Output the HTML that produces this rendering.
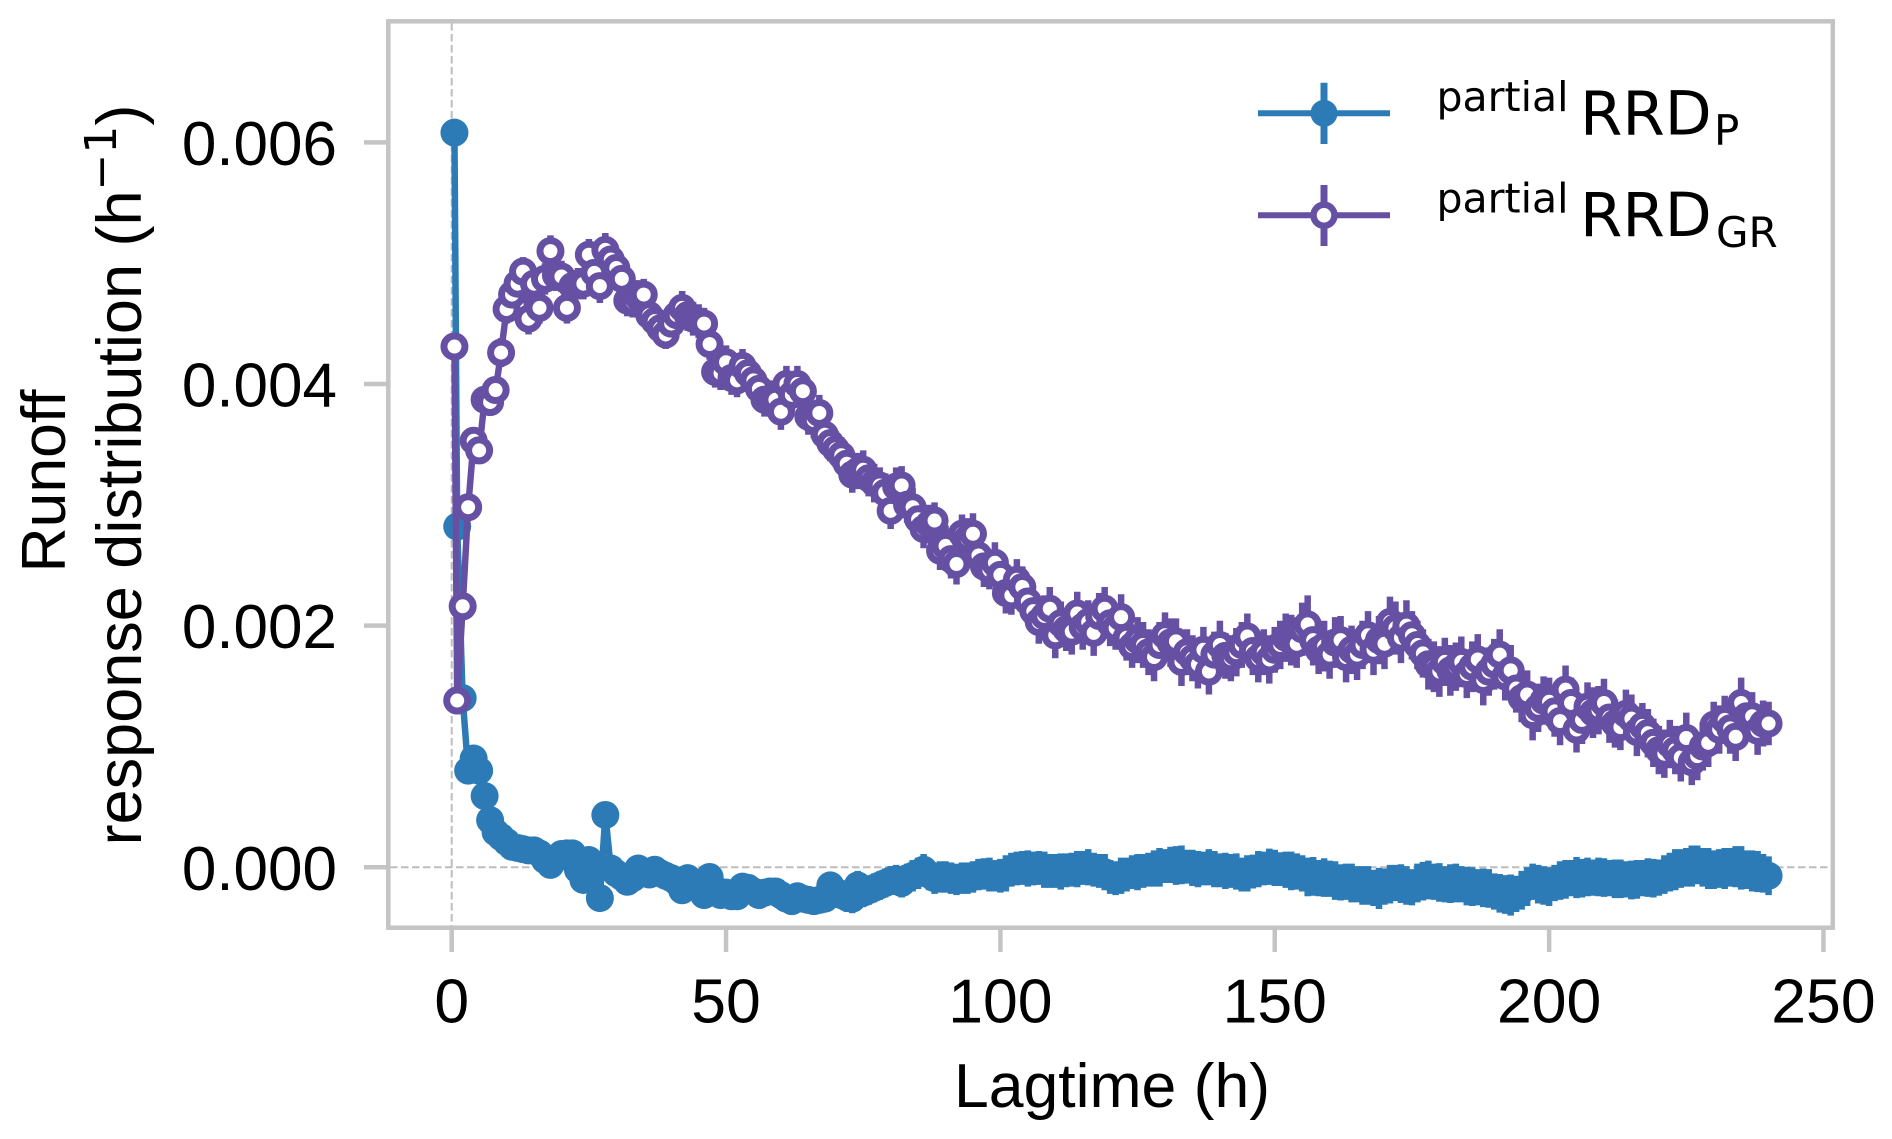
<!DOCTYPE html>
<html lang="en">
<head>
<meta charset="utf-8">
<title>Runoff response distribution</title>
<style>
html,body{margin:0;padding:0;background:#fff;}
svg{display:block;}
text{font-family:"Liberation Sans",sans-serif;fill:#000;}
.dj{font-family:"DejaVu Sans",sans-serif;}
</style>
</head>
<body>
<svg id="chart" xmlns="http://www.w3.org/2000/svg" width="1892" height="1139" viewBox="0 0 1892 1139">
  <rect x="0" y="0" width="1892" height="1139" fill="#fff"/>
  <g id="refs"></g>
  <g id="seriesP"></g>
  <g id="seriesGR"></g>
  <rect x="388.3" y="21.3" width="1444.5" height="906.4" fill="none" stroke="#c4c4c4" stroke-width="4.5"/>
  <g id="ticks"></g>

  <text x="1112" y="1107" font-size="62.5" text-anchor="middle">Lagtime (h)</text>
  <g>
    <text transform="translate(65,481) rotate(-90)" font-size="62.5" text-anchor="middle">Runoff</text>
    <text transform="translate(141,475) rotate(-90)" font-size="63" text-anchor="middle">response distribution (h<tspan class="dj" font-size="44" dy="-25">−1</tspan><tspan dy="25">)</tspan></text>
  </g>

  <g>
    <g>
      <line x1="1258" y1="113.3" x2="1390" y2="113.3" stroke="#2c7bb6" stroke-width="6"/>
      <line x1="1324" y1="82.7" x2="1324" y2="144" stroke="#2c7bb6" stroke-width="7"/>
      <circle cx="1324" cy="113.3" r="13.5" fill="#2c7bb6"/>
      <text class="dj" x="1436.5" y="111" font-size="41">partial</text>
      <text class="dj" x="1580" y="134.3" font-size="61">RRD</text>
      <text class="dj" x="1714" y="145" font-size="42">P</text>
    </g>
    <g>
      <line x1="1258" y1="215.3" x2="1390" y2="215.3" stroke="#6650a3" stroke-width="6"/>
      <line x1="1324" y1="185" x2="1324" y2="246" stroke="#6650a3" stroke-width="7"/>
      <circle cx="1324" cy="215.3" r="10.5" fill="#fff" stroke="#6650a3" stroke-width="6.5"/>
      <text class="dj" x="1436.5" y="212.3" font-size="41">partial</text>
      <text class="dj" x="1580" y="236" font-size="61">RRD</text>
      <text class="dj" x="1716" y="247" font-size="42">GR</text>
    </g>
  </g>
</svg>

<script>
const xTicks = [0, 50, 100, 150, 200, 250];
const xTickLabels = ['0', '50', '100', '150', '200', '250'];
const yTicks = [0, 2, 4, 6];
const yTickLabels = ['0.000', '0.002', '0.004', '0.006'];
const firstLag = 0.5;

// Values below are in units of 0.001 per hour; index i is lag i, except i=0 which is firstLag.
const rrdP = [
6.08,2.82,1.40,.80,.90,.80,.59,.39,.29,.25,
.21,.17,.16,.15,.14,.14,.115,.06,.02,.075,
.11,.115,.115,-.02,-.105,.06,-.01,-.255,.433,-.01,
-.05,-.08,-.12,-.09,-.01,-.04,-.06,-.02,-.05,-.07,
-.09,-.12,-.19,-.09,-.13,-.17,-.23,-.08,-.18,-.23,
-.21,-.24,-.24,-.16,-.17,-.2,-.23,-.21,-.2,-.2,
-.23,-.26,-.28,-.24,-.26,-.27,-.28,-.27,-.26,-.15,
-.2,-.23,-.25,-.26,-.15,-.21,-.19,-.17,-.15,-.13,
-.11,-.1,-.13,-.09,-.07,-.05,-.02,-.06,-.09,-.08,
-.08,-.09,-.10,-.09,-.09,-.08,-.06,-.055,-.06,-.07,
-.07,-.05,-.02,-.01,-.005,-.01,-.01,-.005,-.02,-.03,
-.03,-.035,-.025,-.02,-.015,-.005,0,-.02,-.03,-.04,
-.08,-.09,-.07,-.06,-.04,-.04,-.03,-.02,-.01,0,
.01,.02,.015,.02,.005,-.005,-.015,-.01,0,-.015,
-.025,-.03,-.03,-.035,-.06,-.05,-.035,-.015,-.01,.005,
-.005,-.015,-.02,-.03,-.035,-.05,-.08,-.075,-.09,-.085,
-.095,-.11,-.125,-.12,-.13,-.14,-.15,-.15,-.17,-.175,
-.16,-.14,-.13,-.135,-.15,-.165,-.13,-.115,-.105,-.12,
-.125,-.14,-.135,-.13,-.14,-.155,-.16,-.165,-.17,-.175,
-.2,-.215,-.225,-.23,-.22,-.19,-.16,-.12,-.14,-.15,
-.16,-.13,-.11,-.1,-.09,-.085,-.09,-.08,-.085,-.08,
-.085,-.09,-.095,-.095,-.1,-.105,-.1,-.09,-.085,-.09,
-.085,-.06,-.04,-.02,-.01,0,.01,.02,0,-.01,
-.02,-.01,-.01,0,.005,-.005,-.02,-.03,-.035,-.05,
-.07
];

const errP = [
.02,.02,.03,.04,.04,.04,.05,.05,.05,.05,
.05,.05,.05,.05,.05,.05,.06,.06,.06,.06,
.06,.07,.07,.07,.07,.07,.08,.08,.08,.08,
.08,.08,.08,.08,.09,.09,.09,.09,.09,.09,
.09,.09,.09,.10,.10,.10,.10,.10,.10,.10,
.10,.10,.10,.10,.10,.11,.11,.11,.11,.11,
.11,.11,.11,.11,.11,.11,.11,.11,.11,.11,
.11,.11,.12,.12,.12,.12,.12,.12,.12,.12,
.12,.12,.12,.12,.13,.13,.13,.13,.13,.13,
.13,.13,.13,.13,.13,.13,.13,.13,.14,.13,
.14,.15,.14,.14,.14,.15,.14,.14,.15,.14,
.14,.15,.14,.14,.15,.14,.15,.14,.14,.15,
.14,.14,.15,.14,.14,.15,.14,.14,.15,.16,
.14,.15,.16,.16,.14,.15,.15,.14,.15,.15,
.14,.15,.14,.15,.14,.15,.14,.15,.14,.15,
.15,.14,.15,.16,.15,.15,.16,.16,.15,.16,
.15,.16,.15,.15,.16,.15,.16,.16,.15,.17,
.15,.16,.15,.16,.16,.15,.16,.16,.16,.15,
.16,.15,.16,.16,.15,.16,.16,.15,.16,.16,
.15,.16,.16,.17,.15,.16,.16,.15,.16,.16,
.16,.15,.16,.16,.15,.17,.16,.16,.15,.16,
.16,.15,.16,.16,.15,.16,.16,.15,.16,.16,
.15,.16,.16,.17,.16,.16,.17,.16,.16,.17,
.16,.16,.17,.16,.17,.18,.16,.17,.17,.16,
.16
];

const rrdGR = [
4.31,1.38,2.16,2.98,3.53,3.45,3.87,3.85,3.95,4.26,
4.62,4.74,4.83,4.93,4.54,4.83,4.63,4.87,5.10,4.90,
4.89,4.63,4.81,4.83,4.83,5.07,4.92,4.81,5.11,5.03,
4.96,4.87,4.69,4.68,4.72,4.74,4.57,4.52,4.46,4.41,
4.50,4.57,4.63,4.57,4.54,4.52,4.50,4.33,4.10,4.09,
4.18,4.05,4.03,4.15,4.09,4.03,3.96,3.87,3.88,3.87,
3.77,4.00,3.91,4.00,3.94,3.73,3.70,3.76,3.58,3.51,
3.46,3.41,3.34,3.25,3.28,3.29,3.22,3.18,3.16,3.10,
2.95,3.15,3.16,3.00,2.98,2.88,2.80,2.84,2.87,2.62,
2.66,2.55,2.51,2.76,2.72,2.76,2.58,2.49,2.46,2.52,
2.42,2.27,2.25,2.38,2.32,2.20,2.12,2.03,2.08,2.14,
1.92,2.02,1.97,1.95,2.10,1.99,2.03,1.94,2.08,2.14,
2.02,1.98,2.07,1.90,1.83,1.88,1.84,1.78,1.74,1.84,
1.92,1.86,1.87,1.70,1.78,1.73,1.68,1.80,1.62,1.76,
1.84,1.75,1.73,1.78,1.84,1.91,1.79,1.73,1.78,1.72,
1.80,1.84,1.90,1.88,1.85,1.97,2.01,1.88,1.80,1.83,
1.76,1.86,1.88,1.74,1.80,1.76,1.84,1.92,1.80,1.88,
1.85,2.03,1.98,1.90,2.00,1.92,1.84,1.77,1.68,1.66,
1.62,1.70,1.63,1.66,1.70,1.60,1.66,1.72,1.55,1.62,
1.68,1.76,1.58,1.63,1.48,1.40,1.43,1.26,1.32,1.38,
1.37,1.29,1.21,1.47,1.36,1.14,1.22,1.33,1.28,1.30,
1.36,1.24,1.19,1.16,1.27,1.23,1.12,1.17,1.11,1.03,
.97,.94,1.02,.97,.91,1.07,.87,.92,1.00,1.03,
1.18,1.14,1.22,1.15,1.08,1.36,1.25,1.25,1.13,1.19,
1.19
];

const errGR = [
.05,.06,.08,.09,.10,.10,.11,.11,.11,.12,
.12,.12,.12,.12,.13,.12,.13,.13,.13,.13,
.13,.13,.13,.13,.13,.13,.13,.14,.14,.14,
.13,.13,.13,.13,.14,.13,.13,.13,.13,.12,
.13,.14,.14,.13,.14,.14,.13,.13,.13,.14,
.14,.14,.14,.14,.14,.14,.15,.14,.15,.15,
.15,.15,.14,.15,.14,.15,.15,.15,.15,.15,
.15,.15,.15,.15,.15,.16,.15,.16,.15,.16,
.15,.16,.16,.15,.16,.16,.16,.16,.15,.16,
.17,.16,.17,.16,.17,.17,.16,.17,.16,.17,
.17,.17,.16,.17,.17,.18,.17,.18,.17,.18,
.19,.18,.18,.19,.18,.19,.18,.19,.19,.18,
.19,.18,.19,.19,.18,.19,.19,.19,.20,.19,
.19,.20,.19,.20,.19,.19,.20,.19,.19,.19,
.20,.19,.19,.20,.19,.19,.20,.20,.19,.20,
.19,.20,.20,.21,.20,.22,.24,.21,.20,.21,
.20,.21,.20,.21,.20,.21,.20,.20,.21,.20,
.21,.21,.22,.21,.21,.20,.20,.20,.21,.21,
.21,.20,.21,.20,.21,.20,.21,.21,.21,.20,
.21,.21,.20,.21,.20,.20,.20,.21,.20,.20,
.20,.21,.20,.20,.21,.19,.20,.20,.21,.20,
.20,.21,.20,.19,.20,.20,.20,.19,.20,.20,
.20,.20,.20,.20,.20,.21,.19,.20,.20,.20,
.19,.20,.20,.21,.20,.21,.20,.20,.20,.19,
.18
];

const NS = 'http://www.w3.org/2000/svg';
const BLUE = '#2c7bb6';
const PURPLE = '#6650a3';
const xScale = v => 451.7 + 5.487 * v;
const yScale = v => 867.3 - 120.83 * v;
const lagOf = i => (i === 0 ? firstLag : i);

function make(tag, attrs, parent) {
  const el = document.createElementNS(NS, tag);
  for (const k in attrs) el.setAttribute(k, attrs[k]);
  parent.appendChild(el);
  return el;
}

const refs = document.getElementById('refs');
const refStyle = { stroke: '#bdbdbd', 'stroke-width': 2, 'stroke-dasharray': '7.5 3.5', fill: 'none' };
const refV = make('line', Object.assign({ x1: xScale(0), x2: xScale(0), y1: 23, y2: 926 }, refStyle), refs);


const refH = make('line', Object.assign({ x1: 390, x2: 1831, y1: yScale(0), y2: yScale(0) }, refStyle), refs);



const ticks = document.getElementById('ticks');
xTicks.forEach((t, i) => {
  const tick = make('line', { x1: xScale(t), x2: xScale(t), y1: 929, y2: 952, stroke: '#c4c4c4', 'stroke-width': 4.5 }, ticks);
  
  
  const lab = make('text', { x: xScale(t), y: 1022.7, 'font-size': 62.5, 'text-anchor': 'middle' }, ticks);
  lab.textContent = xTickLabels[i];
  
  
});
yTicks.forEach((t, i) => {
  const tick = make('line', { x1: 364, x2: 387, y1: yScale(t), y2: yScale(t), stroke: '#c4c4c4', 'stroke-width': 4.5 }, ticks);
  
  
  const lab = make('text', { x: 337, y: yScale(t) + 22.5, 'font-size': 62, 'text-anchor': 'end' }, ticks);
  lab.textContent = yTickLabels[i];
  
  
});

function drawSeries(groupId, values, errs, color, filled) {
  const g = document.getElementById(groupId);
  const bars = make('g', {}, g);
  
  
  values.forEach((v, i) => {
    const bar = make('line', {
      x1: xScale(lagOf(i)), x2: xScale(lagOf(i)),
      y1: yScale(v - errs[i]), y2: yScale(v + errs[i]),
      stroke: color, 'stroke-width': 6.5
    }, bars);
    
    
  });
  const pts = values.map((v, i) => xScale(lagOf(i)).toFixed(2) + ',' + yScale(v).toFixed(2)).join(' ');
  const line = make('polyline', { points: pts, fill: 'none', stroke: color, 'stroke-width': 6.5, 'stroke-linejoin': 'round' }, g);
  
  
  const marks = make('g', {}, g);
  
  
  values.forEach((v, i) => {
    const attrs = filled
      ? { cx: xScale(lagOf(i)), cy: yScale(v), r: 14, fill: color }
      : { cx: xScale(lagOf(i)), cy: yScale(v), r: 10.5, fill: '#fff', stroke: color, 'stroke-width': 7 };
    const c = make('circle', attrs, marks);
    
    
  });
}

drawSeries('seriesP', rrdP, errP, BLUE, true);
drawSeries('seriesGR', rrdGR, errGR, PURPLE, false);
</script>
</body>
</html>
